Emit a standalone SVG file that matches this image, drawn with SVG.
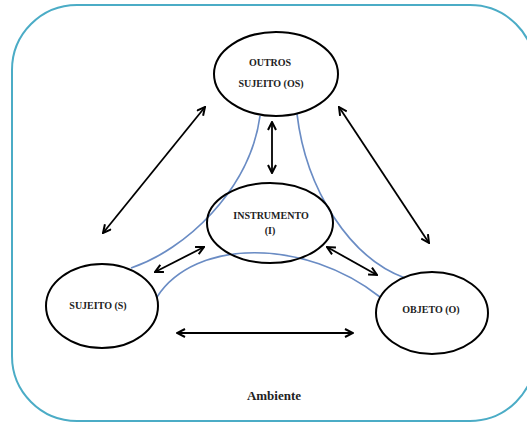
<svg xmlns="http://www.w3.org/2000/svg" width="527" height="423" viewBox="0 0 527 423">
<style>
.node ellipse{fill:none;stroke:#000;stroke-width:2}
text{font-family:"Liberation Serif","DejaVu Serif",serif;font-weight:bold;font-size:10px;fill:#222;text-anchor:middle}
.amb{font-size:13px}
.arr{stroke:#000;stroke-width:1.8;fill:none;marker-start:url(#ah);marker-end:url(#ah)}
.blue{stroke:#6A8CC4;stroke-width:1.7;fill:none}
</style>
<defs>
<marker id="ah" viewBox="0 0 10 10" refX="9" refY="5" markerWidth="10" markerHeight="10" markerUnits="userSpaceOnUse" orient="auto-start-reverse">
<path d="M1,1 L9,5 L1,9" fill="none" stroke="#000" stroke-width="2"/>
</marker>
</defs>
<rect x="12" y="5" width="523" height="416" rx="65" ry="65" fill="#fff" stroke="#4BACC6" stroke-width="2"/>
<g id="boundaries">
<path class="blue" d="M260,116 C250,190 185,250 131,268"/>
<path class="blue" d="M297,114 C306,190 350,258 405,278"/>
<path class="blue" d="M157,297 C195,238 305,238 380,297"/>
</g>
<g id="connectors">
<line class="arr" x1="103" y1="233" x2="205" y2="107"/>
<line class="arr" x1="339" y1="107" x2="429" y2="243"/>
<line class="arr" x1="272" y1="122" x2="272" y2="173"/>
<line class="arr" x1="155" y1="272" x2="204" y2="247"/>
<line class="arr" x1="327" y1="247" x2="377" y2="275"/>
<line class="arr" x1="177" y1="333" x2="353" y2="333"/>
</g>
<g id="outros" class="node">
<ellipse cx="276" cy="74" rx="62" ry="42"/>
<text x="270" y="66" font-family="Liberation Serif, serif">OUTROS</text>
<text x="271" y="87" font-family="Liberation Serif, serif">SUJEITO (OS)</text>
</g>
<g id="instrumento" class="node">
<ellipse cx="270" cy="223" rx="63" ry="40"/>
<text x="271" y="219" font-family="Liberation Serif, serif">INSTRUMENTO</text>
<text x="270" y="234" font-family="Liberation Serif, serif">(I)</text>
</g>
<g id="sujeito" class="node">
<ellipse cx="102" cy="306" rx="56" ry="42"/>
<text x="98" y="309" font-family="Liberation Serif, serif">SUJEITO (S)</text>
</g>
<g id="objeto" class="node">
<ellipse cx="432" cy="313" rx="56" ry="41"/>
<text x="431" y="313" font-family="Liberation Serif, serif">OBJETO (O)</text>
</g>
<text class="amb" x="274" y="400" font-family="Liberation Serif, serif">Ambiente</text>
</svg>
